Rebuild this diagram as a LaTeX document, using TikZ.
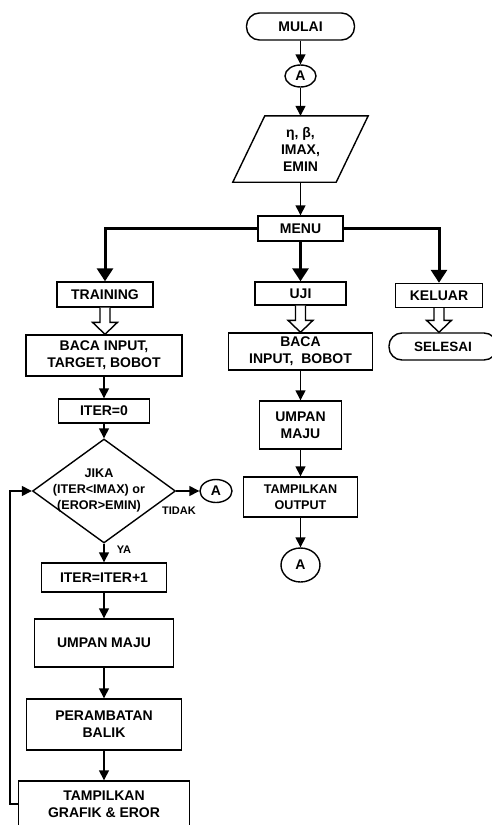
\documentclass[tikz,border=0pt]{standalone}
\usepackage{fontspec}
\setmainfont{Liberation Sans}
\usetikzlibrary{shapes.geometric,arrows.meta,calc}
\begin{document}
\begin{tikzpicture}[x=1pt,y=-1pt,
  every node/.style={font=\fontsize{14}{17}\selectfont\bfseries, inner sep=0pt, align=center},
  box/.style={draw, line width=1.4pt, rectangle},
  term/.style={draw, line width=1.4pt, rectangle, rounded corners=13pt},
  conn/.style={draw, line width=1.4pt, ellipse},
  ar/.style={line width=1.4pt, -{Triangle[length=10pt,width=10pt]}},
  thickar/.style={line width=3pt, -{Triangle[length=13pt,width=16pt]}},
  hollow/.style={line width=1.4pt, fill=white, line join=miter},
  small/.style={font=\fontsize{12.6}{16}\selectfont\bfseries},
  tiny/.style={font=\fontsize{11}{13}\selectfont\bfseries},
]
\useasboundingbox (0,0) rectangle (491,825);

% top part
\node[term, minimum width=108pt, minimum height=27pt] (mulai) at (300.5,26.5) {MULAI};
\node[conn, minimum width=31pt, minimum height=22pt] (a1) at (300.5,76) {A};
\node[minimum width=103pt, minimum height=66pt] (para) at (300.5,149) {η, β,\\IMAX,\\EMIN};
\draw[line width=1.4pt] ($(para.north west)+(16,0)$) -- ($(para.north east)+(16,0)$)
  -- ($(para.south east)+(-16,0)$) -- ($(para.south west)+(-16,0)$) -- cycle;
\node[box, minimum width=85pt, minimum height=25pt] (menu) at (300.5,228.5) {MENU};

% second row
\node[box, minimum width=96pt, minimum height=25pt] (training) at (105,294.5) {TRAINING};
\node[box, minimum width=91pt, minimum height=23pt] (uji) at (300.5,293.5) {UJI};
\node[box, minimum width=87pt, minimum height=24pt] (keluar) at (439,295.5) {KELUAR};

\node[box, minimum width=156pt, minimum height=41pt] (baca1) at (104,355.5) {BACA INPUT,\\TARGET, BOBOT};
\node[box, minimum width=144pt, minimum height=37pt] (baca2) at (300.5,351.5) {BACA\\INPUT,\ \ BOBOT};
\node[term, minimum width=108pt, minimum height=27pt, font=\fontsize{13.5}{16}\selectfont\bfseries] (selesai) at (443,346.5) {SELESAI};

% left column
\node[box, minimum width=91pt, minimum height=24pt] (iter0) at (104,411) {ITER=0};
\node[draw, diamond, line width=1.4pt, minimum width=143pt, minimum height=104pt] (dia) at (104,491) {};
\node[small] (diatext) at (99,490) {JIKA\\(ITER<IMAX) or\\(EROR>EMIN)};
\node[conn, minimum width=32pt, minimum height=23pt] (a2) at (216,491) {A};
\node[tiny] (tidak) at (179,511) {TIDAK};
\node[tiny] (ya) at (124,550) {YA};
\node[box, minimum width=125pt, minimum height=29pt] (iter1) at (104,577.5) {ITER=ITER+1};
\node[box, minimum width=139pt, minimum height=48pt] (umpan1) at (104,643) {UMPAN MAJU};
\node[box, minimum width=155pt, minimum height=51pt] (peramb) at (104,724.5) {PERAMBATAN\\BALIK};
\node[box, minimum width=171pt, minimum height=46pt] (tampil2) at (104,804) {TAMPILKAN\\GRAFIK \& EROR};

% middle column
\node[box, minimum width=82pt, minimum height=48pt] (umpan2) at (300.5,425) {UMPAN\\MAJU};
\node[box, minimum width=114pt, minimum height=40pt, small] (tampil1) at (300.5,497) {TAMPILKAN\\OUTPUT};
\node[conn, minimum width=39pt, minimum height=34pt] (a3) at (300.5,565) {A};

% thin arrows
\draw[ar] (mulai.south) -- (a1.north);
\draw[ar] (a1.south) -- (para.north);
\draw[ar] (para.south) -- (menu.north);
\draw[ar] (baca1.south) -- (iter0.north);
\draw[ar] (iter0.south) -- (dia.north);
\draw[ar] (dia.east) -- (a2.west);
\draw[ar] (dia.south) -- (iter1.north);
\draw[ar] (iter1.south) -- (umpan1.north);
\draw[ar] (umpan1.south) -- (peramb.north);
\draw[ar] (peramb.south) -- (tampil2.north);
\draw[ar] (baca2.south) -- (umpan2.north);
\draw[ar] (umpan2.south) -- (tampil1.north);
\draw[ar] (tampil1.south) -- (a3.north);
\draw[ar] (tampil2.west) -- ++(-8,0) |- (dia.west);

% thick arrows
\draw[thickar] (menu.west) -| (training.north);
\draw[thickar] (menu.south) -- (uji.north);
\draw[thickar] (menu.east) -| (keluar.north);

% hollow arrows
\foreach \s/\t in {training/baca1, uji/baca2, keluar/selesai}{
  \draw[hollow] let \p1=(\s.south), \p2=(\t.north) in
    (\x1-5pt,\y1) -- (\x1-5pt,\y2+12pt) -- (\x1-12.5pt,\y2+12pt) -- (\x1,\y2)
    -- (\x1+12.5pt,\y2+12pt) -- (\x1+5pt,\y2+12pt) -- (\x1+5pt,\y1);
}
\end{tikzpicture}
\end{document}
